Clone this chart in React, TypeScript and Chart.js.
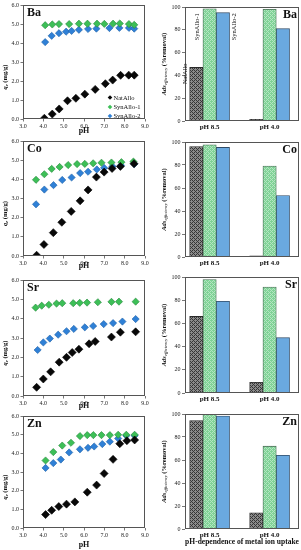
import React, { useEffect, useRef } from "react";
import { Chart, registerables } from "chart.js";

Chart.register(...registerables);

const FONT = "'Liberation Serif', 'Times New Roman', serif";

// ---------- labels ----------
const METALS = ["Ba", "Co", "Sr", "Zn"];
const SERIES = ["NatAllo", "SynAllo-1", "SynAllo-2"];
const BAR_CATEGORIES = ["pH 8.5", "pH 4.0"];
const PH_TICKS = [3, 4, 5, 6, 7, 8, 9];
const QE_TICKS = [0, 1, 2, 3, 4, 5, 6];
const REMOVAL_TICKS = [0, 20, 40, 60, 80, 100];
const BAR_X_TITLE = "pH-dependence of metal ion uptake";

// ---------- scatter data: [pH, qe (mg/g)] ----------
const baNat = [[4.05, 0.04], [4.44, 0.26], [4.78, 0.53], [5.19, 0.96], [5.6, 1.09], [6.04, 1.31], [6.55, 1.56], [7.05, 1.86], [7.41, 2.05], [7.8, 2.3], [8.2, 2.31], [8.47, 2.31]];
const baSyn1 = [[4.09, 4.94], [4.44, 4.98], [4.77, 5.0], [5.27, 5.0], [5.75, 5.02], [6.17, 5.02], [6.64, 5.02], [7.0, 5.01], [7.43, 5.02], [7.76, 5.03], [8.21, 5.0], [8.47, 4.96]];
const baSyn2 = [[4.09, 4.05], [4.41, 4.38], [4.77, 4.52], [5.12, 4.6], [5.39, 4.64], [5.75, 4.7], [6.2, 4.74], [6.61, 4.76], [7.25, 4.79], [7.74, 4.8], [8.21, 4.8], [8.47, 4.76]];

const coNat = [[3.67, 0.04], [4.03, 0.6], [4.49, 1.22], [4.91, 1.76], [5.37, 2.33], [5.81, 2.88], [6.2, 3.45], [6.61, 4.12], [6.99, 4.38], [7.38, 4.57], [7.79, 4.68], [8.46, 4.82]];
const coSyn1 = [[3.64, 3.98], [4.05, 4.27], [4.41, 4.55], [4.8, 4.65], [5.22, 4.75], [5.66, 4.8], [6.04, 4.81], [6.45, 4.84], [6.86, 4.87], [7.35, 4.88], [7.84, 4.9], [8.43, 4.93]];
const coSyn2 = [[3.64, 2.7], [4.05, 3.47], [4.5, 3.7], [4.93, 3.97], [5.39, 4.1], [5.81, 4.33], [6.2, 4.4], [6.63, 4.52], [6.99, 4.6], [7.4, 4.68], [7.82, 4.73], [8.47, 4.8]];

const srNat = [[3.67, 0.45], [4.0, 0.88], [4.36, 1.25], [4.78, 1.75], [5.14, 2.0], [5.42, 2.25], [5.75, 2.42], [6.25, 2.7], [6.55, 2.82], [7.35, 3.05], [7.79, 3.3], [8.54, 3.32]];
const srSyn1 = [[3.62, 4.57], [3.92, 4.67], [4.27, 4.72], [4.65, 4.78], [4.93, 4.8], [5.47, 4.8], [5.79, 4.82], [6.15, 4.83], [6.68, 4.85], [7.35, 4.87], [7.72, 4.88], [8.54, 4.88]];
const srSyn2 = [[3.72, 2.38], [4.0, 2.77], [4.32, 2.97], [4.73, 3.17], [5.14, 3.35], [5.5, 3.47], [6.04, 3.55], [6.45, 3.62], [6.97, 3.72], [7.43, 3.77], [7.89, 3.85], [8.54, 3.98]];

const znNat = [[4.11, 0.72], [4.41, 0.95], [4.76, 1.15], [5.14, 1.28], [5.55, 1.4], [6.16, 1.92], [6.62, 2.3], [6.99, 2.92], [7.43, 3.68], [7.76, 4.52], [8.11, 4.68], [8.49, 4.72]];
const znSyn1 = [[4.11, 3.62], [4.49, 4.07], [4.93, 4.42], [5.36, 4.57], [5.8, 4.93], [6.16, 4.98], [6.46, 4.98], [6.86, 4.98], [7.27, 4.98], [7.68, 5.0], [8.08, 5.0], [8.49, 5.0]];
const znSyn2 = [[4.11, 3.22], [4.49, 3.48], [4.86, 3.67], [5.27, 4.05], [5.8, 4.22], [6.2, 4.3], [6.5, 4.37], [6.9, 4.5], [7.27, 4.63], [7.68, 4.8], [8.08, 4.95], [8.49, 4.95]];

// ---------- bar data: % removal [NatAllo, SynAllo-1, SynAllo-2] ----------
const baRemovalPH85 = [47, 98.5, 95];
const baRemovalPH40 = [1.5, 98, 81];
const coRemovalPH85 = [96, 97.5, 95.3];
const coRemovalPH40 = [1, 79, 53.5];
const srRemovalPH85 = [66, 97.8, 79];
const srRemovalPH40 = [9.2, 91.3, 47.7];
const znRemovalPH85 = [94.2, 100, 98.3];
const znRemovalPH40 = [14, 72, 64];

const PANEL_SERIES = [
  [baNat, baSyn1, baSyn2],
  [coNat, coSyn1, coSyn2],
  [srNat, srSyn1, srSyn2],
  [znNat, znSyn1, znSyn2],
];
const PANEL_REMOVAL = [
  [baRemovalPH85, baRemovalPH40],
  [coRemovalPH85, coRemovalPH40],
  [srRemovalPH85, srRemovalPH40],
  [znRemovalPH85, znRemovalPH40],
];

// ---------- layout (page pixels) ----------
type CBox = { x: number; y: number; w: number; h: number };
type PBox = { l: number; t: number; r: number; b: number };
const SCATTER_CANVAS: CBox[] = [
  { x: 0, y: 0, w: 150, h: 136 },
  { x: 0, y: 136, w: 150, h: 135 },
  { x: 0, y: 271, w: 150, h: 140 },
  { x: 0, y: 411, w: 150, h: 139 },
];
const SCATTER_PLOT: PBox[] = [
  { l: 23, t: 5, r: 145, b: 119 },
  { l: 23, t: 139, r: 145, b: 256 },
  { l: 23, t: 280, r: 145, b: 396 },
  { l: 23, t: 415, r: 145, b: 528 },
];
const BAR_CANVAS: CBox[] = [
  { x: 150, y: 0, w: 151, h: 136 },
  { x: 150, y: 136, w: 151, h: 135 },
  { x: 150, y: 271, w: 151, h: 135 },
  { x: 150, y: 406, w: 151, h: 144 },
];
const BAR_PLOT: PBox[] = [
  { l: 185, t: 7, r: 299, b: 121 },
  { l: 185, t: 142, r: 299, b: 257 },
  { l: 185, t: 277, r: 299, b: 393 },
  { l: 185, t: 414, r: 299, b: 529 },
];

// ---------- styles ----------
const MARKER_FILL = ["#080808", "#3dbf57", "#2f80d6"];
const MARKER_EDGE = ["#000000", "#23863a", "#1d5fa6"];
const MARKER_R = [4, 3.6, 3.6];
const BAR_EDGE = ["#2a2a2a", "#4a6a55", "#2f4a66"];
const FRAME = "#555";

function makePattern(ctx: CanvasRenderingContext2D, base: string, fg: string) {
  const c = document.createElement("canvas");
  c.width = 4;
  c.height = 4;
  const g = c.getContext("2d")!;
  g.fillStyle = base;
  g.fillRect(0, 0, 4, 4);
  g.fillStyle = fg;
  for (let y = 0; y < 4; y++)
    for (let x = 0; x < 4; x++)
      if ((x + y) % 4 === 0 || (x - y + 4) % 4 === 2) g.fillRect(x, y, 1, 1);
  return ctx.createPattern(c, "repeat") as CanvasPattern;
}

type Part = { t: string; f: string; dy?: number };
function drawRotatedRich(ctx: CanvasRenderingContext2D, parts: Part[], cx: number, cy: number) {
  ctx.save();
  ctx.translate(cx, cy);
  ctx.rotate(-Math.PI / 2);
  ctx.fillStyle = "#111";
  ctx.textBaseline = "middle";
  ctx.textAlign = "left";
  let total = 0;
  parts.forEach((p) => {
    ctx.font = p.f;
    total += ctx.measureText(p.t).width;
  });
  let x = -total / 2;
  parts.forEach((p) => {
    ctx.font = p.f;
    ctx.fillText(p.t, x, p.dy || 0);
    x += ctx.measureText(p.t).width;
  });
  ctx.restore();
}

const framePlugin = {
  id: "frame",
  afterDatasetsDraw(chart: any) {
    const { ctx, chartArea: a } = chart;
    ctx.save();
    ctx.strokeStyle = FRAME;
    ctx.lineWidth = 1;
    ctx.strokeRect(Math.round(a.left) + 0.5, Math.round(a.top) + 0.5, Math.round(a.right - a.left) - 1, Math.round(a.bottom - a.top) - 1);
    ctx.restore();
  },
};

function panelLabelPlugin(text: string, right: boolean) {
  return {
    id: "panelLabel",
    afterDraw(chart: any) {
      const { ctx, chartArea: a } = chart;
      ctx.save();
      ctx.font = `bold 12px ${FONT}`;
      ctx.fillStyle = "#111";
      ctx.textBaseline = "top";
      ctx.textAlign = right ? "right" : "left";
      ctx.fillText(text, right ? a.right - 2 : a.left + 4, a.top + 1.5);
      ctx.restore();
    },
  };
}

function yTitlePlugin(parts: Part[], cx: number, dyMid: number) {
  return {
    id: "yTitleRich",
    afterDraw(chart: any) {
      const a = chart.chartArea;
      drawRotatedRich(chart.ctx, parts, cx, (a.top + a.bottom) / 2 + dyMid);
    },
  };
}

const legendPlugin = {
  id: "insideLegend",
  afterDraw(chart: any) {
    const { ctx, chartArea: a } = chart;
    const rows = [a.bottom - 21.5, a.bottom - 12, a.bottom - 3];
    ctx.save();
    SERIES.forEach((s, k) => {
      const x = a.right - 35;
      const y = rows[k];
      const r = 2.3;
      ctx.beginPath();
      ctx.moveTo(x, y - r);
      ctx.lineTo(x + r, y);
      ctx.lineTo(x, y + r);
      ctx.lineTo(x - r, y);
      ctx.closePath();
      ctx.fillStyle = MARKER_FILL[k];
      ctx.fill();
      ctx.font = `6.5px ${FONT}`;
      ctx.fillStyle = "#111";
      ctx.textBaseline = "middle";
      ctx.textAlign = "left";
      ctx.fillText(s, x + 3.5, y + 0.3);
    });
    ctx.restore();
  },
};

const barNamesPlugin = {
  id: "barNames",
  afterDatasetsDraw(chart: any) {
    const { ctx } = chart;
    const ys = chart.scales.y;
    const e0 = chart.getDatasetMeta(0).data[0] as any;
    const e1 = chart.getDatasetMeta(1).data[0] as any;
    const e2 = chart.getDatasetMeta(2).data[0] as any;
    const items = [
      { t: SERIES[0], x: e0.x - e0.width / 2 - 4, y: ys.getPixelForValue(50.5) },
      { t: SERIES[1], x: e1.x - e1.width / 2 - 5.5, y: ys.getPixelForValue(94.5) },
      { t: SERIES[2], x: e2.x + e2.width / 2 + 5, y: ys.getPixelForValue(94.5) },
    ];
    ctx.save();
    ctx.font = `6.5px ${FONT}`;
    ctx.fillStyle = "#111";
    items.forEach((it) => {
      ctx.save();
      ctx.translate(it.x, it.y);
      ctx.rotate(-Math.PI / 2);
      ctx.textAlign = "right";
      ctx.textBaseline = "middle";
      ctx.fillText(it.t, 0, 0);
      ctx.restore();
    });
    ctx.restore();
  },
};

const tickFont = { family: FONT, size: 6 };

function buildScatter(canvas: HTMLCanvasElement, i: number) {
  const cv = SCATTER_CANVAS[i];
  const pl = SCATTER_PLOT[i];
  const yW = pl.l - cv.x;
  const xH = cv.y + cv.h - pl.b;
  const padTop = pl.t - cv.y;
  const padRight = cv.x + cv.w - pl.r;
  const plugins: any[] = [
    framePlugin,
    panelLabelPlugin(METALS[i], false),
    yTitlePlugin(
      [
        { t: "q", f: `italic bold 6.5px ${FONT}` },
        { t: "e", f: `italic bold 4.5px ${FONT}`, dy: 1.8 },
        { t: " (mg/g)", f: `bold 6.5px ${FONT}` },
      ],
      5,
      15
    ),
  ];
  if (i === 0) plugins.push(legendPlugin);
  return new Chart(canvas, {
    type: "scatter",
    data: {
      datasets: SERIES.map((s, k) => ({
        label: s,
        data: PANEL_SERIES[i][k].map(([x, y]) => ({ x, y })),
        pointStyle: "rectRot",
        pointRadius: MARKER_R[k],
        backgroundColor: MARKER_FILL[k],
        borderColor: MARKER_EDGE[k],
        borderWidth: 0.6,
      })),
    },
    options: {
      responsive: false,
      animation: false,
      events: [],
      layout: { padding: { top: padTop, right: padRight, left: 0, bottom: 0 } },
      plugins: { legend: { display: false }, tooltip: { enabled: false } },
      scales: {
        x: {
          type: "linear",
          min: PH_TICKS[0],
          max: PH_TICKS[PH_TICKS.length - 1],
          afterBuildTicks: (s: any) => {
            s.ticks = PH_TICKS.map((v) => ({ value: v }));
          },
          ticks: { font: tickFont, color: "#222", padding: 1, maxRotation: 0, minRotation: 0, autoSkip: false, callback: (v: any) => Number(v).toFixed(1) },
          grid: { drawOnChartArea: false, drawTicks: true, tickLength: 2.5, color: FRAME, lineWidth: 0.8 },
          border: { display: false },
          title: { display: true, text: "pH", font: { family: FONT, size: 8, weight: "bold" }, color: "#111", padding: { top: 0, bottom: 0 } },
          afterFit: (s: any) => {
            s.height = xH;
          },
        },
        y: {
          type: "linear",
          min: QE_TICKS[0],
          max: QE_TICKS[QE_TICKS.length - 1],
          afterBuildTicks: (s: any) => {
            s.ticks = QE_TICKS.map((v) => ({ value: v }));
          },
          ticks: { font: tickFont, color: "#222", padding: 1.5, autoSkip: false, callback: (v: any) => Number(v).toFixed(1) },
          grid: { drawOnChartArea: false, drawTicks: true, tickLength: 2.5, color: FRAME, lineWidth: 0.8 },
          border: { display: false },
          afterFit: (s: any) => {
            s.width = yW;
          },
        },
      },
    } as any,
    plugins,
  });
}

function buildBar(canvas: HTMLCanvasElement, i: number) {
  const cv = BAR_CANVAS[i];
  const pl = BAR_PLOT[i];
  const yW = pl.l - cv.x;
  const xH = cv.y + cv.h - pl.b;
  const padTop = pl.t - cv.y;
  const padRight = cv.x + cv.w - pl.r;
  const ctx = canvas.getContext("2d")!;
  const fills: any[] = [
    makePattern(ctx, "#8a8a8a", "#363636"),
    makePattern(ctx, "#7fd296", "#b3e5c0"),
    "#6aa9e0",
  ];
  const plugins: any[] = [
    framePlugin,
    panelLabelPlugin(METALS[i], true),
    yTitlePlugin(
      [
        { t: "Ads", f: `italic bold 6.5px ${FONT}` },
        { t: "efficiency", f: `italic 4.5px ${FONT}`, dy: 1.8 },
        { t: " (%removal)", f: `bold 6.5px ${FONT}` },
      ],
      14,
      0
    ),
  ];
  if (i === 0) plugins.push(barNamesPlugin);
  const removal = PANEL_REMOVAL[i];
  return new Chart(canvas, {
    type: "bar",
    data: {
      datasets: SERIES.map((s, k) => ({
        label: s,
        data: BAR_CATEGORIES.map((_, j) => ({ x: j + 1, y: removal[j][k] })),
        backgroundColor: fills[k],
        borderColor: BAR_EDGE[k],
        borderWidth: 0.8,
        borderSkipped: "bottom",
        barThickness: 13.3,
      })),
    },
    options: {
      responsive: false,
      animation: false,
      events: [],
      layout: { padding: { top: padTop, right: padRight, left: 0, bottom: 0 } },
      plugins: { legend: { display: false }, tooltip: { enabled: false } },
      scales: {
        x: {
          type: "linear",
          offset: false,
          min: 0.59,
          max: 2.49,
          afterBuildTicks: (s: any) => {
            s.ticks = BAR_CATEGORIES.map((_, j) => ({ value: j + 1 }));
          },
          ticks: {
            font: { family: FONT, size: 7, weight: "bold" },
            color: "#111",
            padding: 2,
            maxRotation: 0,
            minRotation: 0,
            autoSkip: false,
            callback: (v: any) => BAR_CATEGORIES[Math.round(Number(v)) - 1] ?? "",
          },
          grid: { display: false, drawTicks: false, tickLength: 0, offset: false },
          border: { display: false },
          title:
            i === 3
              ? { display: true, text: BAR_X_TITLE, font: { family: FONT, size: 7.5, weight: "bold" }, color: "#111", padding: { top: 0, bottom: 3.5 } }
              : { display: false },
          afterFit: (s: any) => {
            s.height = xH;
          },
        },
        y: {
          type: "linear",
          min: REMOVAL_TICKS[0],
          max: REMOVAL_TICKS[REMOVAL_TICKS.length - 1],
          afterBuildTicks: (s: any) => {
            s.ticks = REMOVAL_TICKS.map((v) => ({ value: v }));
          },
          ticks: { font: tickFont, color: "#222", padding: 1.5, autoSkip: false },
          grid: { drawOnChartArea: false, drawTicks: true, tickLength: 3, color: FRAME, lineWidth: 0.8 },
          border: { display: false },
          afterFit: (s: any) => {
            s.width = yW;
          },
        },
      },
    } as any,
    plugins,
  });
}

function ChartCanvas({ box, build }: { box: CBox; build: (c: HTMLCanvasElement) => Chart }) {
  const ref = useRef<HTMLCanvasElement | null>(null);
  useEffect(() => {
    const chart = build(ref.current!);
    return () => chart.destroy();
  }, []);
  return (
    <canvas
      ref={ref}
      width={box.w}
      height={box.h}
      style={{ position: "absolute", left: box.x, top: box.y, width: box.w, height: box.h, display: "block" }}
    />
  );
}

export default function App() {
  return (
    <div style={{ position: "absolute", left: 0, top: 0, width: 301, height: 550, background: "#fff", overflow: "hidden" }}>
      {METALS.map((m, i) => (
        <ChartCanvas key={"s" + m} box={SCATTER_CANVAS[i]} build={(c) => buildScatter(c, i)} />
      ))}
      {METALS.map((m, i) => (
        <ChartCanvas key={"b" + m} box={BAR_CANVAS[i]} build={(c) => buildBar(c, i)} />
      ))}
    </div>
  );
}
